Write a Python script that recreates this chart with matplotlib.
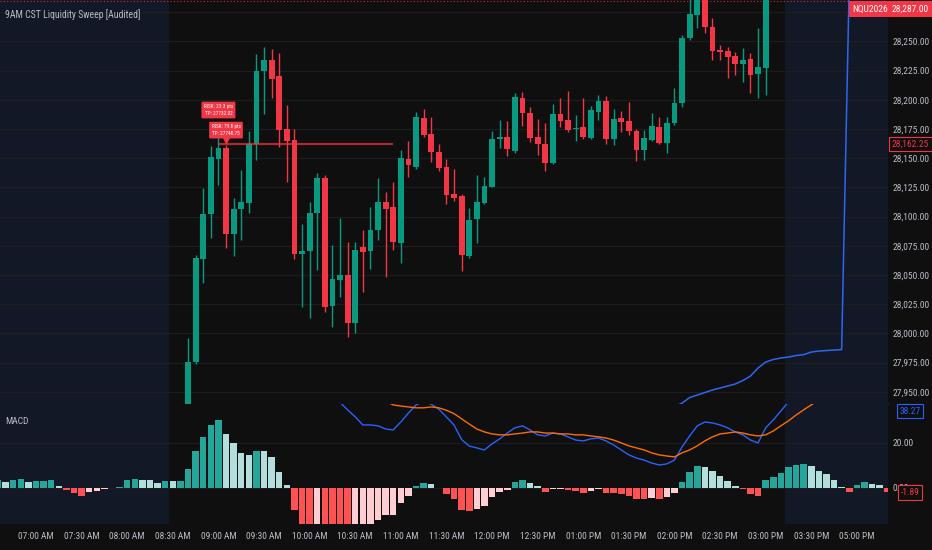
import numpy as np
import matplotlib
matplotlib.use('Agg')
import matplotlib.pyplot as plt
import matplotlib.transforms as mtrans
from matplotlib import font_manager

installed = {f.name for f in font_manager.fontManager.ttflist}
if 'Liberation Sans Narrow' in installed:
    FONT, FS = 'Liberation Sans Narrow', 7.2
elif 'Roboto Condensed' in installed:
    FONT, FS = 'Roboto Condensed', 6.8
else:
    FONT, FS = 'Liberation Sans', 6.0
plt.rcParams['font.family'] = [FONT, 'DejaVu Sans']

BG = '#0f0f0f'
SHADE = '#121826'
GRID = '#1d1d1f'
TXT = '#b8bcc4'
UP = '#089981'
DN = '#F23645'

# ---------------- data (5 minute bars, x = bar index) ----------------
time_labels = ['07:00 AM', '07:30 AM', '08:00 AM', '08:30 AM', '09:00 AM', '09:30 AM',
               '10:00 AM', '10:30 AM', '11:00 AM', '11:30 AM', '12:00 PM', '12:30 PM',
               '01:00 PM', '01:30 PM', '02:00 PM', '02:30 PM', '03:00 PM', '03:30 PM',
               '05:00 PM']
time_ticks = [5, 11, 17, 23, 29, 35, 41, 47, 53, 59, 65, 71, 77, 83, 89, 95, 101, 107, 113]

candle_start = 25
opens = [27925, 27975.2, 28063.4, 28101.9, 28149, 28158.9, 28084.8, 28106.2, 28111.8, 28162.1,
         28224.9, 28234, 28220.3, 28174.9, 28165.5, 28067.6, 28070.7, 28103.3, 28133.2, 28023.6,
         28045.7, 28049.9, 28009.1, 28073.6, 28070.7, 28088.5, 28112.7, 28107.9, 28077.6, 28149,
         28142.7, 28184.4, 28170.6, 28155.5, 28142.7, 28119.3, 28117.6, 28066.5, 28097.9, 28111.8,
         28125.5, 28166.6, 28167.8, 28156.3, 28201.2, 28188.4, 28168.3, 28162.1, 28146.1, 28187.5,
         28182.6, 28174.7, 28176.4, 28167.5, 28189.8, 28198.9, 28166.1, 28184.1, 28181.8, 28173.2,
         28157, 28165.5, 28176.9, 28162.7, 28179.8, 28197.4, 28252.6, 28272.5, 28290, 28262.5,
         28242.6, 28242, 28237.4, 28230.6, 28234.9, 28222, 28226.9]
closes = [27975.7, 28064.8, 28101.9, 28151.2, 28158.9, 28084.8, 28106.4, 28112.7, 28162.1, 28224.9,
          28234, 28217.7, 28174.1, 28164.7, 28067.6, 28070.5, 28103.3, 28133.2, 28022.8, 28046.3,
          28049.9, 28009.1, 28071.3, 28069.9, 28088.5, 28112.2, 28106.5, 28078.4, 28149.8, 28144.1,
          28185, 28169.8, 28155.5, 28141.8, 28118.4, 28116.1, 28067.1, 28097, 28112.7, 28126.1,
          28166.1, 28167.8, 28157.6, 28202.1, 28188.4, 28167.5, 28162.1, 28146.1, 28187.5, 28181.8,
          28174.1, 28176.1, 28167.8, 28191.2, 28198.9, 28166.1, 28183.3, 28181.2, 28173.2, 28157,
          28167, 28177.5, 28162.7, 28179.8, 28197.4, 28252.6, 28273.4, 28290, 28262, 28242,
          28241.1, 28236.8, 28230.6, 28234, 28221.2, 28228.3, 28300]
highs = [27996, 28067, 28124.2, 28160.6, 28168.3, 28161.2, 28115.6, 28139.8, 28173.5, 28239.2,
         28245.4, 28243.2, 28239.8, 28195.5, 28175.2, 28093.6, 28112.7, 28137, 28135.5, 28075.6,
         28098.5, 28078.4, 28078.4, 28088.5, 28107.9, 28132.7, 28121.3, 28129.8, 28157, 28164.7,
         28189.2, 28192.1, 28185, 28162.1, 28149.2, 28140.4, 28119, 28107, 28135.5, 28134.1,
         28173.5, 28182.6, 28182.1, 28206, 28206.3, 28194, 28183.3, 28179.8, 28196.4, 28201.2,
         28207.7, 28187, 28201.2, 28194.9, 28204.1, 28203.2, 28191.8, 28190.4, 28198.3, 28174.7,
         28174.1, 28188.9, 28185, 28185, 28209.8, 28255.4, 28288, 28295, 28296, 28269.7,
         28246.9, 28245.4, 28241.1, 28244, 28240.3, 28261.2, 28310]
lows = [27918, 27973.7, 28042.8, 28081.4, 28127, 28073.3, 28066.2, 28079.9, 28102.8, 28148.4,
        28187.8, 28201.2, 28159.3, 28129.8, 28063.4, 28022.3, 28012.9, 28054.2, 28018.5, 28005.7,
        28031.3, 27996.6, 28000.5, 28035.6, 28054.8, 28079.9, 28048.5, 28071.3, 28059.9, 28134.1,
        28140.4, 28167.8, 28146.9, 28139.2, 28110.7, 28113.3, 28053.6, 28064.5, 28077.6, 28110.7,
        28125, 28158.4, 28151.8, 28154.1, 28177.8, 28163.6, 28152.7, 28139, 28145, 28176.9,
        28172.6, 28164.7, 28166.1, 28166.1, 28182.6, 28162.1, 28161.2, 28172.6, 28169.8, 28147.8,
        28148.4, 28164.7, 28162.1, 28154.1, 28178.4, 28194, 28251.1, 28261.2, 28256.9, 28234,
        28234, 28218.8, 28221.2, 28215.4, 28206, 28201.7, 28204]

last_price = 28287.00
symbol = 'NQU2026'

# swept level and the two trade labels
level_price = 28162.25
level_from, level_to = 29, 52
label_bars = [29, 30]
label_texts = ['RISK: 23.3 pts\nTP: 27732.02', 'RISK: 79.8 pts\nTP: 27748.75']

# blue session line in the price pane
vwap_start = 85
vwap = [27925, 27928, 27931, 27934, 27937, 27940.3, 27945, 27947.2, 27949.3, 27951.5,
        27953.2, 27954.9, 27956.6, 27959.6, 27963.4, 27970.3, 27975.4, 27977.6, 27978.9, 27979.7,
        27981, 27981.8, 27984, 27984.8, 27985.3, 27985.7, 27986.1, 28300, 28300, 28300,
        28300, 28300, 28300]

# MACD histogram from bar 0
hist = [3.4, 2.5, 3.4, 4.0, 2.8, 2.9, 3.3, 3.35, 1.0, -0.7,
        -2.2, -3.4, -1.6, -1.2, -0.45, -0.1, 0.5, 3.7, 4.0, 3.6,
        3.55, 2.4, 3.3, 3.25, 3.3, 8.4, 16.6, 22.7, 27.9, 30.1,
        24.0, 19.9, 15.6, 14.5, 16.6, 16.55, 13.8, 7.3, 1.5, -9.6,
        -18, -20, -19.5, -21, -22, -23, -23.5, -22, -20, -17.5,
        -14.4, -11.9, -11.85, -6.7, -3.7, 1.0, 2.4, 1.9, 0.2, -2.8,
        -4.9, -9.6, -10.1, -9.3, -7.9, -4.0, -1.6, -0.7, 2.8, 3.7,
        2.4, 1.0, -1.6, -0.45, -0.4, -0.7, -1.2, -2.1, -1.3, -0.6,
        -2.4, -2.45, -2.5, -3.4, -4.9, -4.95, -4.6, -4.9, -4.1, -2.1,
        2.8, 7.0, 9.6, 9.2, 7.4, 5.2, 3.3, 1.0, -0.45, -2.5,
        -3.4, 3.7, 4.9, 6.8, 9.2, 10.4, 10.8, 9.6, 7.7, 6.1,
        3.7, 0.6, -1.6, 1.5, 2.8, 1.9, 1.2, -1.89]

macd_start = 44
macd_line = [41, 38, 34.7, 31.6, 28, 28, 27.6, 26.2, 25.8, 29.3,
             33.3, 36.9, 38.5, 37.2, 35.0, 31.5, 28.0, 21.5, 18.6, 17.8,
             16.9, 19.6, 21.8, 24.4, 26.7, 27.6, 25.8, 23.6, 23.1, 24.4,
             24, 22.7, 21.3, 20.9, 21.8, 22.2, 20.9, 19.1, 16.9, 14.7,
             13.3, 12.4, 11.1, 10.2, 10.7, 12.4, 18.2, 23.1, 27.6, 29.3,
             28.9, 28, 26.7, 24.9, 23.6, 21.3, 20, 26.7, 30.2, 34.2,
             38.2, 41, 43, 44, 45, 45, 44.5, 43, 42, 41,
             40, 39.5, 39, 38.27]

signal_start = 49
signal_line = [45.5, 42, 38.5, 36.9, 36.4, 36, 35.6, 35.6, 36.0, 35.6,
               34.5, 33.0, 30.7, 28.4, 26.2, 24.9, 24, 23.6, 23.6, 24,
               24.4, 24.9, 24.9, 24.4, 24.4, 24, 24, 23.6, 23.6, 23.1,
               22.7, 22.2, 21.3, 20, 18.7, 17.8, 16.9, 15.6, 14.7, 14.2,
               13.8, 15.6, 16.9, 18.7, 20.9, 22.7, 24, 24.4, 24.9, 24.4,
               23.6, 23.1, 23.6, 25.3, 27.6, 29.8, 32.4, 34.7, 36.9, 39,
               41, 42.5, 43.5, 44, 43.5, 42.8, 41.9, 41, 40.16]

# session shading (bars outside regular hours)
premarket_end = 22.5
afterhours_start = 103.5

# ---------------- figure ----------------
W, H = 932, 550
fig = plt.figure(figsize=(W / 100, H / 100), dpi=100, facecolor=BG)
right = 888 / W
ax = fig.add_axes([0, 146 / H, right, 404 / H])
axm = fig.add_axes([0, 26 / H, right, 120 / H], sharex=ax)

x_lo, x_hi = 0.26, 117.1
for a in (ax, axm):
    a.set_facecolor(BG)
    a.axvspan(x_lo, premarket_end, color=SHADE, zorder=0, lw=0)
    a.axvspan(afterhours_start, x_hi, color=SHADE, zorder=0, lw=0)
    for s in a.spines.values():
        s.set_visible(False)
    a.yaxis.tick_right()
ax.set_xlim(x_lo, x_hi)

# ---- price pane ----
o = np.array(opens); c = np.array(closes)
hi = np.array(highs); lo = np.array(lows)
xc = np.arange(candle_start, candle_start + len(o))
col = np.where(c >= o, UP, DN)
ax.vlines(xc, lo, hi, colors=col, lw=1.0, zorder=3)
ax.bar(xc, np.maximum(np.abs(c - o), 0.5), bottom=np.minimum(o, c), width=0.76,
       color=col, zorder=4, lw=0)

ax.plot(np.arange(vwap_start, vwap_start + len(vwap)), vwap, color='#2f66f0', lw=1.1, zorder=5)
ax.hlines(level_price, level_from, level_to, color=DN, alpha=0.7, lw=1.6, zorder=5)
ax.axhline(28285, color=DN, lw=0.8, ls=(0, (1, 2)), alpha=0.8, zorder=2)

ax.set_ylim(27939.5, 28285.5)
pticks = np.arange(27950, 28276, 25)
ax.set_yticks(pticks, ['' if p == 28275 else f'{p:,.2f}' for p in pticks])
ax.grid(axis='y', color=GRID, lw=0.9, zorder=1)
ax.tick_params(axis='y', length=0, pad=3.5, labelcolor=TXT, labelsize=FS)
ax.tick_params(axis='x', bottom=False, labelbottom=False)
ax.spines['bottom'].set_visible(True)
ax.spines['bottom'].set_color('#2a2d35')

# trade labels
offsets = [15, 6.5]
for b, t, off in zip(label_bars, label_texts, offsets):
    ax.annotate(t, xy=(b, hi[b - candle_start]), xytext=(0, off), textcoords='offset points',
                ha='center', va='bottom', fontsize=FS * 0.55, color='white', linespacing=1.5,
                bbox=dict(boxstyle='round,pad=0.45,rounding_size=0.2', fc=DN, ec='none'),
                zorder=8)
tri = mtrans.offset_copy(ax.transData, fig=fig, x=0, y=4, units='points')
ax.plot(label_bars[1], hi[label_bars[1] - candle_start], marker='v', ms=4, color=DN,
        transform=tri, zorder=8)

# right-axis price boxes
bl = mtrans.blended_transform_factory(ax.transAxes, ax.transData)
ax.text(1.0248, level_price, f'{level_price:,.2f}', transform=bl, ha='center', va='center',
        fontsize=FS, color=DN, clip_on=False, zorder=9,
        bbox=dict(boxstyle='square,pad=0.3', fc=BG, ec=DN, lw=0.8))
ax.text(1.0248, 1 - 9 / 404, f'{last_price:,.2f}', transform=ax.transAxes, ha='center',
        va='center', fontsize=FS, color='white', clip_on=False, zorder=9,
        bbox=dict(boxstyle='square,pad=0.35', fc=DN, ec='none'))
ax.text(870 / 888, 1 - 9 / 404, symbol, transform=ax.transAxes, ha='center', va='center',
        fontsize=FS, color='white', clip_on=False, zorder=9,
        bbox=dict(boxstyle='square,pad=0.35', fc=DN, ec='none'))

fig.text(5 / W, 1 - 15 / H, '9AM CST Liquidity Sweep [Audited]', color=TXT, fontsize=FS * 1.03,
         ha='left', va='center')

# ---- MACD pane ----
hv = np.array(hist)
prev = np.concatenate([[hv[0] - 1], hv[:-1]])
hcol = np.where(hv >= 0, np.where(hv >= prev, '#26A69A', '#B2DFDB'),
                np.where(hv > prev, '#FFCDD2', '#FF5252'))
axm.bar(np.arange(len(hv)), hv, width=0.86, color=hcol, lw=0, zorder=3)
axm.plot(np.arange(macd_start, macd_start + len(macd_line)), macd_line, color='#2962FF',
         lw=1.0, zorder=4)
axm.plot(np.arange(signal_start, signal_start + len(signal_line)), signal_line,
         color='#FF6D00', lw=1.0, zorder=4)
axm.set_ylim(-16.0, 37.3)
axm.set_yticks([0, 20], ['0.00', '20.00'])
axm.grid(axis='y', color=GRID, lw=0.9, zorder=1)
axm.tick_params(axis='y', length=0, pad=3.5, labelcolor=TXT, labelsize=FS)
axm.set_xticks(time_ticks, time_labels)
axm.tick_params(axis='x', length=0, pad=6, labelcolor=TXT, labelsize=FS)

blm = mtrans.blended_transform_factory(axm.transAxes, axm.transData)
axm.text(1.0248, hist[-1], f'{hist[-1]:.2f}', transform=blm,
         ha='center', va='center', fontsize=FS, color=DN, clip_on=False, zorder=9,
         bbox=dict(boxstyle='square,pad=0.3', fc=BG, ec=DN, lw=0.8))
axm.text(1.0248, 1 - 7 / 120, f'{macd_line[-1]:.2f}', transform=axm.transAxes,
         ha='center', va='center', fontsize=FS, color='#2962FF', clip_on=False, zorder=9,
         bbox=dict(boxstyle='square,pad=0.3', fc=BG, ec='#2962FF', lw=0.8))
axm.text(5 / 888, 1 - 17 / 120, 'MACD', transform=axm.transAxes, color=TXT, fontsize=FS,
         ha='left', va='center')

fig.savefig('out.png', dpi=100, facecolor=BG)
